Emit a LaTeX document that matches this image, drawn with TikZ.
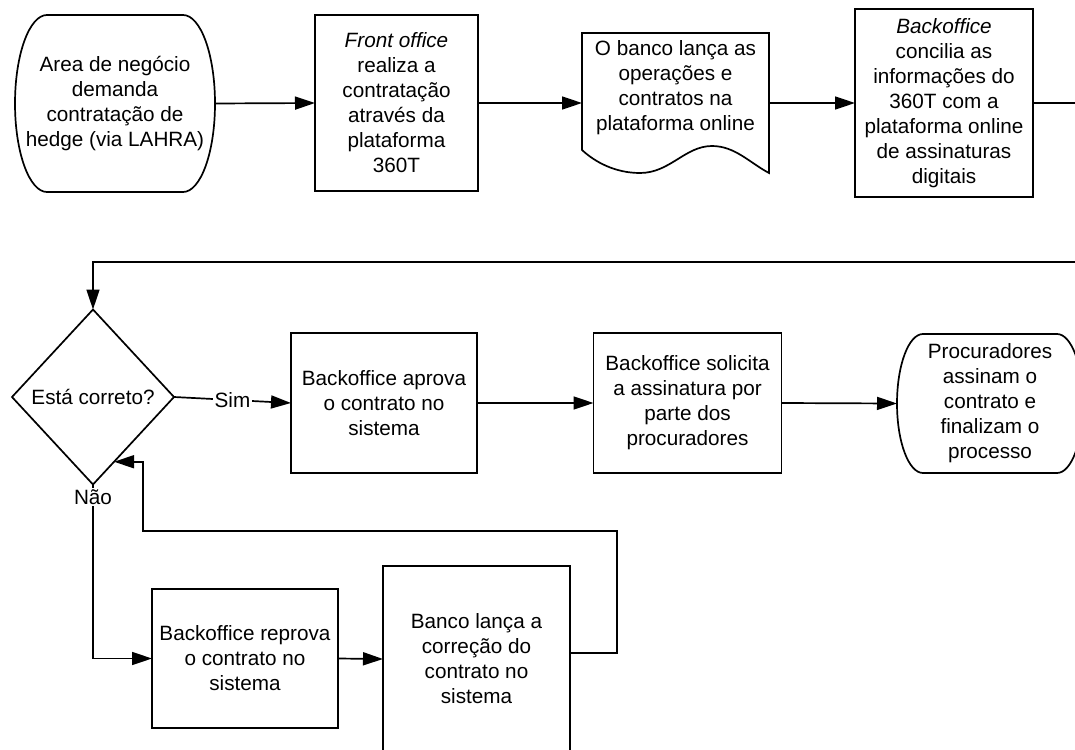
\documentclass[tikz,border=0pt]{standalone}
\usepackage{fontspec}
\setmainfont{Liberation Sans}
\usetikzlibrary{arrows.meta,shapes.geometric,calc}
\begin{document}
\begin{tikzpicture}[x=1pt,y=-1pt,
  every node/.style={font=\fontsize{20.7}{25}\selectfont, align=center, inner sep=0pt, outer sep=0pt},
  ln/.style={line width=1.7pt},
  boxn/.style={draw, ln, rectangle},
  arr/.style={ln, -{Triangle[length=20pt,width=13pt]}},
  lbl/.style={fill=white, inner sep=1.5pt}
  ]
\useasboundingbox (0,0) rectangle (1075,749);
\clip (0,0) rectangle (1075,749);

% Row 1
\node[minimum width=200pt, minimum height=177pt] (t1) at (115,103.5) {Area de negócio\\demanda\\contratação de\\hedge (via LAHRA)};
\draw[ln] ([xshift=32pt]t1.north west) -- ([xshift=-32pt]t1.north east)
  arc[start angle=90, end angle=-90, x radius=32pt, y radius=88.5pt]
  -- ([xshift=32pt]t1.south west)
  arc[start angle=270, end angle=90, x radius=32pt, y radius=88.5pt] -- cycle;

\node[boxn, minimum width=163pt, minimum height=176pt] (fo) at (396.5,103) {\textit{Front office}\\realiza a\\contratação\\através da\\plataforma\\360T};

\node[minimum width=187pt, minimum height=140pt] (doc) at (675.5,103) {};
\node at (675.5,88) {O banco lança as\\operações e\\contratos na\\plataforma online};
\draw[ln] (doc.south west |- 0,150) -- (doc.north west) -- (doc.north east) -- (doc.south east)
  .. controls (750,163) and (735,146) .. (712,146)
  .. controls (685,146) and (670,173) .. (640,173)
  .. controls (615,173) and (595,162) .. (582,150) -- cycle;

\node[boxn, minimum width=178pt, minimum height=188pt] (bo) at (944,103) {\textit{Backoffice}\\concilia as\\informações do\\360T com a\\plataforma online\\de assinaturas\\digitais};

% Row 2
\node[draw, ln, diamond, minimum width=162pt, minimum height=175pt] (d) at (93,397) {Está correto?};
\node[boxn, minimum width=186pt, minimum height=140pt] (ap) at (384,403) {Backoffice aprova\\o contrato no\\sistema};
\node[boxn, minimum width=188pt, minimum height=140pt] (so) at (687.5,403) {Backoffice solicita\\a assinatura por\\parte dos\\procuradores};

\node[minimum width=186pt, minimum height=139pt] (t2) at (990,403.5) {Procuradores\\assinam o\\contrato e\\finalizam o\\processo};
\draw[ln] ([xshift=26pt]t2.north west) -- ([xshift=-26pt]t2.north east)
  arc[start angle=90, end angle=-90, x radius=26pt, y radius=69.5pt]
  -- ([xshift=26pt]t2.south west)
  arc[start angle=270, end angle=90, x radius=26pt, y radius=69.5pt] -- cycle;

% Row 3
\node[boxn, minimum width=186pt, minimum height=139pt] (rp) at (245,658.5) {Backoffice reprova\\o contrato no\\sistema};
\node[boxn, minimum width=187pt, minimum height=186pt] (bc) at (476.5,659) {Banco lança a\\correção do\\contrato no\\sistema};

% Connectors
\draw[arr] (t1.east) -- (fo.west);
\draw[arr] (fo.east) -- (doc.west);
\draw[arr] (doc.east) -- (bo.west);
\coordinate (r1) at (1090,262);
\draw[arr] (bo.east) -| (r1) -| (d.north);
\draw[arr] (d.east) -- node[lbl, midway] {Sim} (ap.west);
\draw[arr] (ap.east) -- (so.west);
\draw[arr] (so.east) -- (t2.west);
\draw[arr] (d.south) -- node[lbl, pos=0.07] {Não} (d.south |- rp.west) -- (rp.west);
\draw[arr] (rp.east) -- (bc.west);
\draw[arr] ([yshift=6pt]bc.east) -- ++(47,0) |- (143,531) |- ($(d.east)!0.74!(d.south)$);
\end{tikzpicture}
\end{document}
